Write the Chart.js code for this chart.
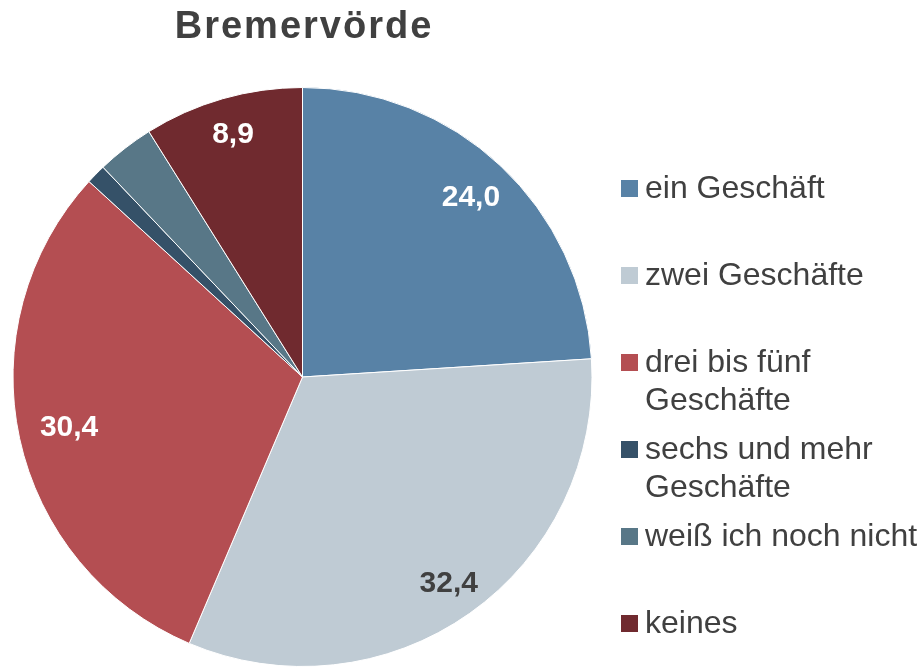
<!DOCTYPE html>
<html>
<head>
<meta charset="utf-8">
<script src="https://cdn.jsdelivr.net/npm/chart.js@4/dist/chart.umd.min.js"></script>
<style>
  html, body { margin: 0; padding: 0; background: #fff; }
  #wrap { width: 922px; height: 668px; }
</style>
</head>
<body>
<div id="wrap"><canvas id="pie" width="922" height="668"></canvas></div>
<script>
// data
const title = 'Bremervörde'
const categories = ['ein Geschäft', 'zwei Geschäfte', 'drei bis fünf Geschäfte', 'sechs und mehr Geschäfte', 'weiß ich noch nicht', 'keines']
const legendLines = [['ein Geschäft'], ['zwei Geschäfte'], ['drei bis fünf', 'Geschäfte'], ['sechs und mehr', 'Geschäfte'], ['weiß ich noch nicht'], ['keines']]
const values = [24.0, 32.4, 30.4, 1.1, 3.2, 8.9]
const colors = ['#5882A6', '#BFCBD4', '#B44E52', '#355168', '#587787', '#702A2F']
const labelColors = ['#ffffff', '#404040', '#ffffff', '#ffffff', '#ffffff', '#ffffff']

const textColor = '#404040'
const fontFamily = '"Liberation Sans", Arial, sans-serif'
// how far out (share of radius) each slice label sits
const labelDist = [0.85, 0.875, 0.825, 0, 0, 0.87]

// title + legend drawn straight on the canvas
const extras = {
    id: 'extras',
    afterDraw(chart) {
        const ctx = chart.ctx
        ctx.save()
        ctx.fillStyle = textColor
        ctx.font = 'bold 38px ' + fontFamily
        ctx.letterSpacing = '2px'
        ctx.textAlign = 'center'
        ctx.textBaseline = 'alphabetic'
        ctx.fillText(title, 304, 38)
        ctx.letterSpacing = '0px'

        ctx.font = '32px ' + fontFamily
        ctx.textAlign = 'left'
        legendLines.forEach((lines, i) => {
            const base = 198 + i * 87
            ctx.fillStyle = colors[i]
            ctx.fillRect(621, base - 18, 17, 17)
            ctx.fillStyle = textColor
            lines.forEach((line, j) => {
                ctx.fillText(line, 645, base + j * 37.5)
            })
        })
        ctx.restore()
    }
}

// value labels inside the big slices
const sliceLabels = {
    id: 'sliceLabels',
    afterDatasetsDraw(chart) {
        const ctx = chart.ctx
        const meta = chart.getDatasetMeta(0)
        ctx.save()
        ctx.font = 'bold 30px ' + fontFamily
        ctx.textAlign = 'center'
        ctx.textBaseline = 'middle'
        meta.data.forEach((arc, i) => {
            if (values[i] < 5) return
            const p = arc.getProps(['x', 'y', 'startAngle', 'endAngle', 'outerRadius'], true)
            const mid = (p.startAngle + p.endAngle) / 2
            const d = p.outerRadius * labelDist[i]
            ctx.fillStyle = labelColors[i]
            ctx.fillText(values[i].toFixed(1).replace('.', ','), p.x + Math.cos(mid) * d, p.y + Math.sin(mid) * d)
        })
        ctx.restore()
    }
}

new Chart(document.getElementById('pie'), {
    type: 'pie',
    data: {
        labels: categories,
        datasets: [{
            data: values,
            backgroundColor: colors,
            borderColor: '#ffffff',
            borderWidth: 1
        }]
    },
    options: {
        responsive: false,
        animation: false,
        layout: {
            padding: { left: 12, top: 87, right: 329, bottom: 1 }
        },
        plugins: {
            legend: { display: false },
            title: { display: false },
            tooltip: { enabled: false }
        }
    },
    plugins: [sliceLabels, extras]
})
</script>
</body>
</html>
